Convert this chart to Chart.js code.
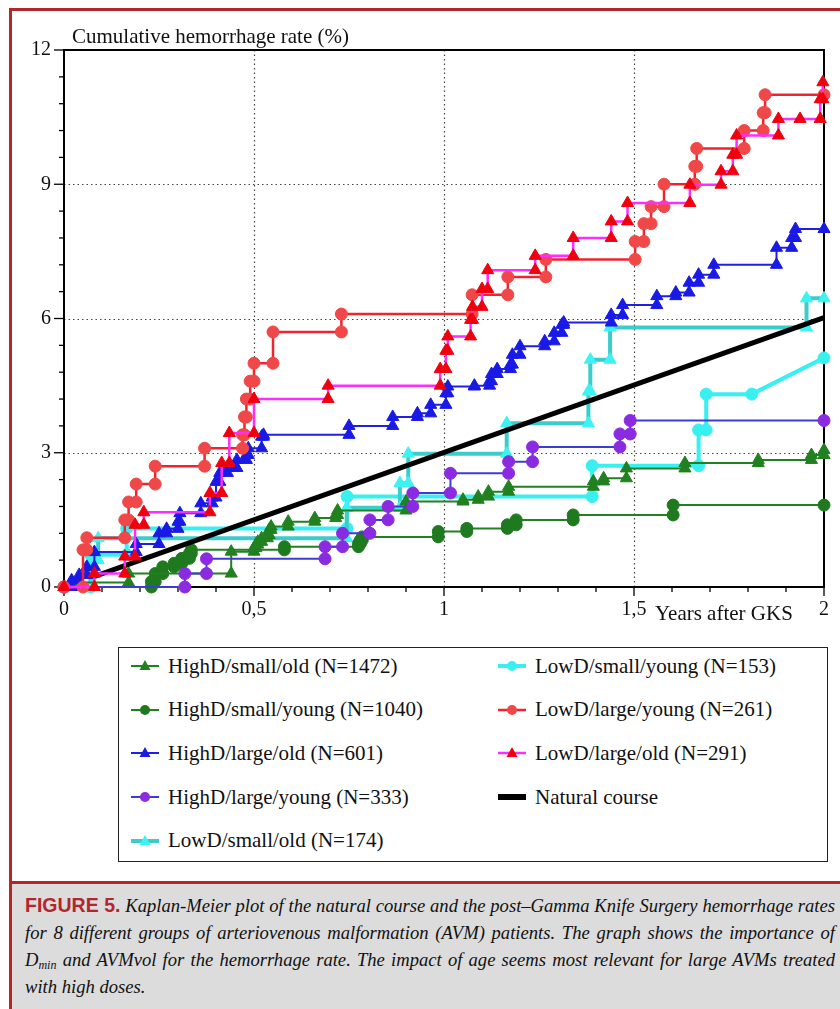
<!DOCTYPE html>
<html>
<head>
<meta charset="utf-8">
<title>Cumulative hemorrhage rate</title>
<script src="https://cdn.jsdelivr.net/npm/chart.js@4.4.1/dist/chart.umd.min.js"></script>
<style>
  body { margin: 0; width: 840px; height: 1009px; overflow: hidden; background: #fff; position: relative;
         font-family: 'Liberation Serif', 'Times New Roman', serif; color: #111; }
  #frame { position: absolute; left: 9px; top: 8px; width: 840px; height: 1010px;
           border-left: 3px solid #b3262c; border-top: 3px solid #b3262c; }
  #chartWrap { position: absolute; left: 0; top: 0; width: 840px; height: 640px; }
  .axis-title { position: absolute; font-size: 21px; line-height: 24px; white-space: nowrap; }
  #legend { position: absolute; left: 118px; top: 647px; width: 710px; height: 215px;
            border: 1.5px solid #222; box-sizing: border-box; }
  .leg-item { position: absolute; height: 26px; display: flex; align-items: center;
              font-size: 21px; white-space: nowrap; }
  .leg-item svg { margin-right: 8px; }
  #caption { position: absolute; left: 12px; top: 881px; width: 828px; height: 128px;
             background: #dcdcdc; border-top: 3px solid #b3262c; box-sizing: border-box;
             padding: 8px 0 0 13px; }
  .cap-line { width: 810px; height: 27px; line-height: 27px; font-style: italic; font-size: 18.6px;
              white-space: nowrap; text-align: justify; text-align-last: justify; }
  .cap-line.last { text-align: left; text-align-last: left; }
  .fig { font-family: 'Liberation Sans', Arial, sans-serif; font-style: normal; font-weight: bold;
         color: #b3262c; font-size: 19.5px; }
  .cap-line sub { font-size: 12px; vertical-align: -3px; line-height: 0; }
</style>
</head>
<body>
<div id="frame"></div>
<div id="chartWrap"><canvas id="kmChart" width="840" height="640"></canvas></div>
<div class="axis-title" style="left:72px; top:24px;">Cumulative hemorrhage rate (%)</div>
<div class="axis-title" style="left:655px; top:601px;">Years after GKS</div>
<div id="legend"></div>
<div id="caption">
  <div class="cap-line"><span class="fig">FIGURE 5.</span> Kaplan-Meier plot of the natural course and the post–Gamma Knife Surgery hemorrhage rates</div>
  <div class="cap-line">for 8 different groups of arteriovenous malformation (AVM) patients. The graph shows the importance of</div>
  <div class="cap-line">D<sub>min</sub> and AVMvol for the hemorrhage rate. The impact of age seems most relevant for large AVMs treated</div>
  <div class="cap-line last">with high doses.</div>
</div>
<script>
// event times (years after GKS) and cumulative rate (%) after each event
// HighD/small/old
const hsoTimes = [0.02, 0.17, 0.44, 0.50, 0.505, 0.51, 0.52, 0.535, 0.54, 0.545, 0.59, 0.66, 0.715, 0.72, 0.90,
                  1.05, 1.09, 1.117, 1.17, 1.393, 1.42, 1.48, 1.634, 1.827, 1.967, 2.0];
const hsoRates = [0.1, 0.3, 0.79, 0.87, 0.95, 1.01, 1.09, 1.16, 1.28, 1.35, 1.46, 1.54, 1.61, 1.71, 1.91,
                  1.95, 2.02, 2.13, 2.24, 2.36, 2.43, 2.65, 2.77, 2.84, 2.95, 3.06];
// HighD/small/young
const hsyTimes = [0.23, 0.24, 0.26, 0.29, 0.31, 0.33, 0.335, 0.58, 0.775, 0.78, 0.785, 0.985, 1.06, 1.167, 1.19, 1.34, 1.603, 2.0];
const hsyRates = [0.12, 0.3, 0.45, 0.53, 0.64, 0.75, 0.83, 0.9, 0.97, 1.05, 1.12, 1.24, 1.31, 1.39, 1.5, 1.61, 1.83, 1.83];
// HighD/large/old
const hloTimes = [0.02, 0.04, 0.06, 0.08, 0.19, 0.25, 0.27, 0.3, 0.305, 0.36, 0.39, 0.4, 0.41, 0.43, 0.455, 0.48, 0.485,
                  0.52, 0.525, 0.75, 0.865, 0.93, 0.965, 1.005, 1.01, 1.08, 1.12, 1.125, 1.14, 1.175, 1.18, 1.2, 1.265,
                  1.29, 1.31, 1.315, 1.44, 1.47, 1.56, 1.61, 1.645, 1.67, 1.71, 1.875, 1.915, 1.925, 2.0];
const hloRates = [0.15, 0.27, 0.45, 0.78, 0.96, 1.2, 1.3, 1.46, 1.65, 1.87, 2.0, 2.35, 2.55, 2.66, 2.84, 2.95, 3.1,
                  3.36, 3.4, 3.6, 3.8, 3.88, 4.07, 4.33, 4.48, 4.5, 4.6, 4.76, 4.87, 4.97, 5.19, 5.38, 5.49,
                  5.68, 5.86, 5.91, 6.08, 6.3, 6.5, 6.58, 6.8, 6.98, 7.2, 7.58, 7.8, 8.0, 8.0];
// HighD/large/young
const hlyTimes = [0.318, 0.375, 0.687, 0.733, 0.805, 0.853, 0.918, 1.017, 1.17, 1.233, 1.463, 1.49, 2.0];
const hlyRates = [0.3, 0.63, 0.9, 1.2, 1.5, 1.8, 2.1, 2.54, 2.8, 3.13, 3.42, 3.72, 3.72];
// LowD/small/old
const lsoTimes = [0.07, 0.09, 0.744, 0.884, 0.906, 1.165, 1.38, 1.385, 1.437, 1.954, 2.0];
const lsoRates = [0.6, 1.09, 1.77, 2.32, 2.98, 3.66, 4.37, 5.08, 5.8, 6.45, 6.45];
// LowD/small/young (last segment is drawn straight to the end point)
const lsyTimes = [0.07, 0.165, 0.745, 1.39, 1.67, 1.69, 1.81];
const lsyRates = [0.72, 1.31, 2.02, 2.71, 3.51, 4.31, 4.31];
const lsyEnd = [2.0, 5.12];
// LowD/large/young
const llyTimes = [0.05, 0.06, 0.16, 0.17, 0.19, 0.24, 0.37, 0.47, 0.475, 0.48, 0.49, 0.5, 0.55, 0.73, 1.074,
                  1.168, 1.268, 1.503, 1.526, 1.545, 1.579, 1.66, 1.665, 1.79, 1.84, 1.845, 2.0];
const llyRates = [0.83, 1.1, 1.5, 1.9, 2.3, 2.7, 3.1, 3.4, 3.8, 4.2, 4.6, 5.0, 5.7, 6.1, 6.53,
                  6.93, 7.32, 7.72, 8.12, 8.5, 9.0, 9.4, 9.8, 10.2, 10.6, 11.0, 11.0];
// LowD/large/old
const lloTimes = [0.08, 0.16, 0.187, 0.21, 0.384, 0.415, 0.435, 0.5, 0.695, 0.99, 1.005, 1.01, 1.07, 1.075,
                  1.10, 1.115, 1.24, 1.34, 1.44, 1.483, 1.647, 1.729, 1.76, 1.77, 1.88, 1.937, 1.99, 1.997];
const lloRates = [0.3, 0.68, 1.39, 1.67, 2.1, 2.77, 3.44, 4.2, 4.5, 4.87, 5.28, 5.6, 5.97, 6.26,
                  6.66, 7.08, 7.4, 7.8, 8.17, 8.58, 8.99, 9.29, 9.66, 10.09, 10.46, 10.46, 10.9, 11.28];
// Natural course
const natTimes = [0.075, 2.0];
const natRates = [0.22, 6.02];

const xTickLabels = ['0', '0,5', '1', '1,5', '2'];
const yTickLabels = ['0', '3', '6', '9', '12'];
const gridYears = [0.5, 1, 1.5];
const gridRates = [3, 6, 9];

// step curve: both corners of every jump get a marker
function kmPoints(times, rates, end) {
  const pts = [{ x: 0, y: 0 }];
  let prev = 0;
  times.forEach((t, i) => {
    if (rates[i] !== prev) pts.push({ x: t, y: prev });
    pts.push({ x: t, y: rates[i] });
    prev = rates[i];
  });
  if (end) pts.push({ x: end[0], y: end[1] });
  return pts;
}

const series = [
  { label: 'HighD/small/old (N=1472)', data: kmPoints(hsoTimes, hsoRates), line: '#21801f', mark: '#21801f', shape: 'triangle', r: 7, w: 2, order: 5 },
  { label: 'HighD/small/young (N=1040)', data: kmPoints(hsyTimes, hsyRates), line: '#21801f', mark: '#1f7a1f', shape: 'circle', r: 6, w: 2, order: 6 },
  { label: 'HighD/large/old (N=601)', data: kmPoints(hloTimes, hloRates), line: '#2020e0', mark: '#1a1ae6', shape: 'triangle', r: 7, w: 2, order: 3 },
  { label: 'HighD/large/young (N=333)', data: kmPoints(hlyTimes, hlyRates), line: '#3c3cd2', mark: '#8a2be2', shape: 'circle', r: 6, w: 2, order: 4 },
  { label: 'LowD/small/old (N=174)', data: kmPoints(lsoTimes, lsoRates), line: '#3ccccc', mark: '#3ef2f2', shape: 'triangle', r: 7, w: 4, order: 7 },
  { label: 'LowD/small/young (N=153)', data: kmPoints(lsyTimes, lsyRates, lsyEnd), line: '#38f0f0', mark: '#38f0f0', shape: 'circle', r: 6, w: 4, order: 8 },
  { label: 'LowD/large/young (N=261)', data: kmPoints(llyTimes, llyRates), line: '#f0242e', mark: '#f04848', shape: 'circle', r: 6, w: 2.5, order: 1 },
  { label: 'LowD/large/old (N=291)', data: kmPoints(lloTimes, lloRates), line: '#ff2cff', mark: '#f0000f', shape: 'triangle', r: 7, w: 2.5, order: 0 },
  { label: 'Natural course', data: natTimes.map((t, i) => ({ x: t, y: natRates[i] })), line: '#000', mark: '#000', shape: false, r: 0, w: 5, order: 2 }
];

const legendRows = [
  ['HighD/small/old (N=1472)', 'LowD/small/young (N=153)'],
  ['HighD/small/young (N=1040)', 'LowD/large/young (N=261)'],
  ['HighD/large/old (N=601)', 'LowD/large/old (N=291)'],
  ['HighD/large/young (N=333)', 'Natural course'],
  ['LowD/small/old (N=174)', null]
];

// dotted grid, frame and tick marks
const axisDeco = {
  id: 'axisDeco',
  beforeDatasetsDraw(chart) {
    const { ctx, chartArea: a, scales: { x, y } } = chart;
    const line = (x1, y1, x2, y2) => { ctx.beginPath(); ctx.moveTo(x1, y1); ctx.lineTo(x2, y2); ctx.stroke(); };
    ctx.save();
    ctx.strokeStyle = '#444';
    ctx.lineWidth = 1.2;
    ctx.setLineDash([1.5, 3]);
    gridYears.forEach(v => { const px = Math.round(x.getPixelForValue(v)) + 0.5; line(px, a.top, px, a.bottom); });
    gridRates.forEach(v => { const py = Math.round(y.getPixelForValue(v)) + 0.5; line(a.left, py, a.right, py); });
    ctx.setLineDash([]);
    ctx.strokeStyle = '#000';
    ctx.lineWidth = 1.3;
    for (let i = 0; i <= 20; i++) {
      const px = x.getPixelForValue(i / 10);
      line(px, a.bottom, px, a.bottom + (i % 5 === 0 ? 9 : 5));
      const py = y.getPixelForValue(i * 0.6);
      line(a.left, py, a.left - (i % 5 === 0 ? 10 : 5), py);
    }
    ctx.lineWidth = 2;
    ctx.strokeRect(a.left, a.top, a.right - a.left, a.bottom - a.top);
    ctx.restore();
  }
};

const tickFont = { family: "'Liberation Serif', 'Times New Roman', serif", size: 20 };

new Chart(document.getElementById('kmChart').getContext('2d'), {
  type: 'line',
  data: {
    datasets: series.map(s => ({
      label: s.label,
      data: s.data,
      borderColor: s.line,
      borderWidth: s.w,
      backgroundColor: s.mark,
      pointStyle: s.shape,
      pointRadius: s.r,
      pointBackgroundColor: s.mark,
      pointBorderColor: s.mark,
      pointBorderWidth: 1,
      tension: 0,
      fill: false,
      clip: false,
      order: s.order
    }))
  },
  options: {
    responsive: false,
    animation: false,
    events: [],
    layout: { padding: { top: 50, right: 16, left: 0, bottom: 0 } },
    plugins: { legend: { display: false }, tooltip: { enabled: false } },
    scales: {
      x: {
        type: 'linear', min: 0, max: 2,
        afterFit(scale) { scale.height = 53; },
        grid: { display: false, drawTicks: false },
        border: { display: false },
        ticks: {
          stepSize: 0.5, autoSkip: false, maxRotation: 0, padding: 11, color: '#111', font: tickFont,
          callback: v => xTickLabels[Math.round(v / 0.5)]
        }
      },
      y: {
        type: 'linear', min: 0, max: 12,
        afterFit(scale) { scale.width = 64; },
        grid: { display: false, drawTicks: false },
        border: { display: false },
        ticks: {
          stepSize: 3, autoSkip: false, padding: 13, color: '#111', font: tickFont,
          callback: v => yTickLabels[Math.round(v / 3)]
        }
      }
    }
  },
  plugins: [axisDeco]
});

// legend box built from the same series styles
function legendSymbol(s) {
  const sw = s.shape ? s.w : 6;
  let marker = '';
  if (s.shape === 'circle') marker = `<circle cx="15" cy="9" r="5" fill="${s.mark}"/>`;
  if (s.shape === 'triangle') marker = `<polygon points="15,3 20.5,13 9.5,13" fill="${s.mark}"/>`;
  return `<svg width="30" height="18" viewBox="0 0 30 18"><line x1="1" y1="9" x2="29" y2="9" stroke="${s.line}" stroke-width="${sw}"/>${marker}</svg>`;
}
const legendEl = document.getElementById('legend');
legendRows.forEach((row, r) => {
  row.forEach((name, c) => {
    if (!name) return;
    const s = series.find(d => d.label === name);
    const item = document.createElement('div');
    item.className = 'leg-item';
    item.style.left = (c === 0 ? 11 : 378) + 'px';
    item.style.top = (5 + r * 43.7) + 'px';
    item.innerHTML = legendSymbol(s) + '<span>' + name + '</span>';
    legendEl.appendChild(item);
  });
});
</script>
</body>
</html>
